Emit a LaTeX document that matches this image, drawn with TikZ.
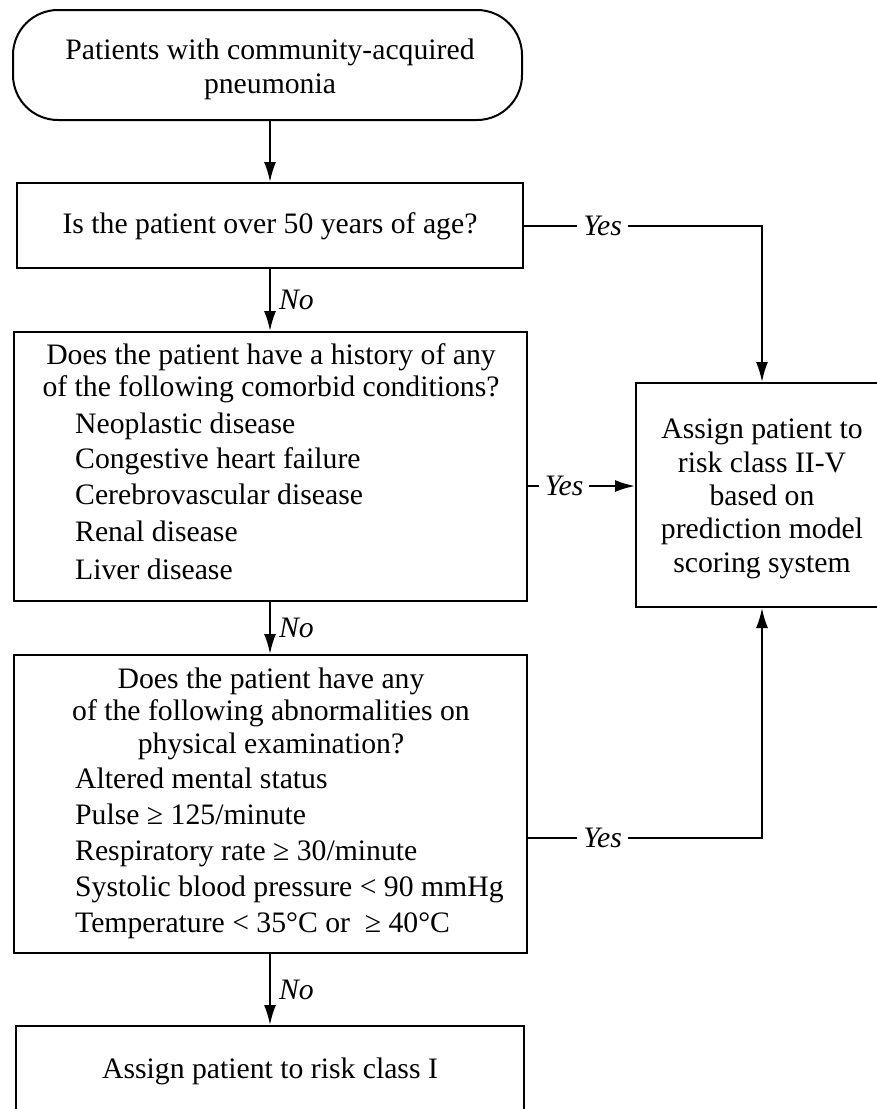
\documentclass[tikz,border=0pt]{standalone}
\usepackage{fontspec}
\setmainfont{Liberation Serif}
\usetikzlibrary{arrows.meta}
\begin{document}
\begin{tikzpicture}[x=1pt,y=1pt,
  box/.style={draw, line width=2pt, rectangle, inner sep=0pt},
  txt/.style={font=\fontsize{29.7}{34}\selectfont, inner sep=0pt, anchor=mid},
  itemtxt/.style={txt, anchor=mid west},
  lab/.style={font=\fontsize{29.7}{34}\selectfont\itshape, inner sep=2pt},
  yeslab/.style={lab, fill=white, inner xsep=6pt},
  arr/.style={line width=2pt, -{Latex[length=20pt,width=12pt]}}]
\useasboundingbox (0,0) rectangle (877,-1109);
\clip (0,0) rectangle (877,-1109);
\fill[white] (0,0) rectangle (877,-1109);

% boxes
\node[box, rounded corners=45pt, minimum width=509pt, minimum height=110pt] (start) at (267.5,-65) {};
\node[txt] (s1) at (270,-57) {Patients with community-acquired};
\node[txt] (s2) at (270,-91) {pneumonia};

\node[box, minimum width=506pt, minimum height=85pt] (q1) at (270,-225.5) {};
\node[txt] (q1t) at (270,-231) {Is the patient over 50 years of age?};

\node[box, minimum width=513pt, minimum height=269pt] (q2) at (270,-466.5) {};
\node[txt] (q2a) at (271,-362) {Does the patient have a history of any};
\node[txt] (q2b) at (271,-394) {of the following comorbid conditions?};
\node[itemtxt] (q2c) at (75,-431) {Neoplastic disease};
\node[itemtxt] (q2d) at (75,-466) {Congestive heart failure};
\node[itemtxt] (q2e) at (75,-502) {Cerebrovascular disease};
\node[itemtxt] (q2f) at (75,-539) {Renal disease};
\node[itemtxt] (q2g) at (75,-577) {Liver disease};

\node[box, minimum width=252pt, minimum height=224pt] (risk) at (762,-495) {};
\node[txt] (r1) at (762,-436) {Assign patient to};
\node[txt] (r2) at (762,-470) {risk class II-V};
\node[txt] (r3) at (762,-503) {based on};
\node[txt] (r4) at (762,-536) {prediction model};
\node[txt] (r5) at (762,-570) {scoring system};

\node[box, minimum width=513pt, minimum height=298pt] (q3) at (270,-804) {};
\node[txt] (q3a) at (271,-686) {Does the patient have any};
\node[txt] (q3b) at (271,-718) {of the following abnormalities on};
\node[txt] (q3c) at (271,-751) {physical examination?};
\node[itemtxt] (q3d) at (75,-786) {Altered mental status};
\node[itemtxt] (q3e) at (75,-822) {Pulse ≥ 125/minute};
\node[itemtxt] (q3f) at (75,-858) {Respiratory rate ≥ 30/minute};
\node[itemtxt] (q3g) at (75,-894) {Systolic blood pressure < 90 mmHg};
\node[itemtxt] (q3h) at (75,-930) {Temperature < 35°C or \ ≥ 40°C};

\node[box, minimum width=508pt, minimum height=88pt] (end) at (270,-1070) {};
\node[txt] (endt) at (270,-1076) {Assign patient to risk class I};

% connectors
\draw[arr] (q1.north |- start.south) -- (q1.north);
\draw[arr] (q1.south) -- node[lab, right, xshift=6pt] {No} (q2.north);
\draw[arr] (q2.south) -- node[lab, right, xshift=6pt] {No} (q3.north);
\draw[arr] (q3.south) -- node[lab, right, xshift=6pt] {No} (end.north);

\coordinate (c1) at (q1.east -| risk.north);
\draw[arr] (q1.east) -- node[yeslab, pos=0.33] {Yes} (c1) -- (risk.north);

\coordinate (y2s) at ([yshift=-19.5pt]q2.east);
\draw[arr] (y2s) -- node[yeslab, pos=0.34] {Yes} (y2s -| risk.west);

\coordinate (y3s) at ([yshift=-34pt]q3.east);
\coordinate (c3) at (y3s -| risk.south);
\draw[arr] (y3s) -- node[yeslab, pos=0.32] {Yes} (c3) -- (risk.south);
\end{tikzpicture}
\end{document}
